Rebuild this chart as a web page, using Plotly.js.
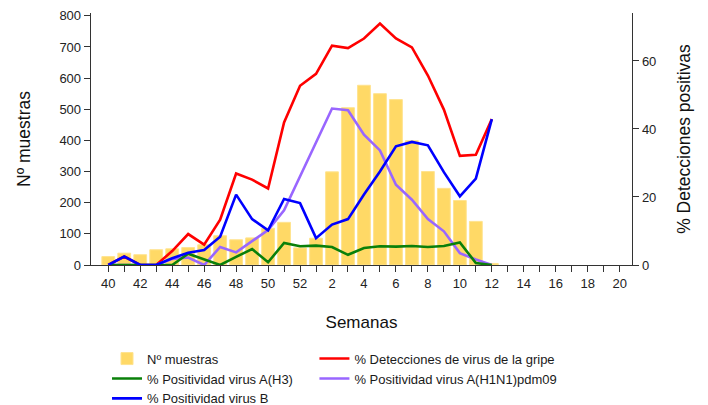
<!DOCTYPE html>
<html>
<head>
<meta charset="utf-8">
<script src="https://cdn.plot.ly/plotly-3.0.1.min.js"></script>
<style>html,body{margin:0;padding:0;background:#fff;}#chart{width:708px;height:405px;}</style>
</head>
<body>
<div id="chart"></div>
<script>
// Weeks (season weeks 40..52, then 1..20)
const weeks = ['40','41','42','43','44','45','46','47','48','49','50','51','52',
  '1','2','3','4','5','6','7','8','9','10','11','12','13','14','15','16','17','18','19','20'];
const tickLabels = ['40','','42','','44','','46','','48','','50','','52',
  '','2','','4','','6','','8','','10','','12','','14','','16','','18','','20'];

// Nº muestras (left axis)
const muestras = [27,38,33,49,52,56,65,94,81,87,118,137,55,
  86,299,505,577,550,531,399,300,246,207,140,5,null,null,null,null,null,null,null,null];

// % Detecciones de virus de la gripe
const detecciones = [0,2.5,0,0,4.1,9.1,6.0,13.3,26.9,25.1,22.5,41.9,52.7,
  56.2,64.5,63.8,66.6,71.0,66.6,64.0,55.7,45.7,32.1,32.4,42.9,null,null,null,null,null,null,null,null];

// % Positividad virus A(H3)
const h3 = [0,0,0,0,0,3.3,1.6,0,2.4,4.7,0.8,6.5,5.5,
  5.7,5.3,3.0,5.0,5.5,5.4,5.6,5.3,5.6,6.6,0.6,0,null,null,null,null,null,null,null,null];

// % Positividad virus A(H1N1)pdm09
const h1n1 = [0,0,0,0,1.8,2.2,0,5.3,3.7,6.9,10.3,16.1,26.1,
  36.4,46.0,45.5,38.3,33.7,23.6,19.2,13.5,9.9,3.5,1.6,0,null,null,null,null,null,null,null,null];

// % Positividad virus B
const virusB = [0,2.5,0,0,2.0,3.6,4.4,8.3,20.7,13.5,10.2,19.4,18.2,
  7.9,11.9,13.5,20.7,27.5,34.9,36.2,35.2,27.3,20.2,25.4,42.9,null,null,null,null,null,null,null,null];

const FONT = 'Liberation Sans, Arial, sans-serif';
const LW = 2.6;

const traces = [
  {type:'bar', x:weeks, y:muestras, name:'Nº muestras', yaxis:'y', legend:'legend',
   marker:{color:'#FFD966', line:{color:'#FFE38F', width:1}}},
  {type:'scatter', mode:'lines', x:weeks, y:detecciones, name:'% Detecciones de virus de la gripe',
   yaxis:'y2', legend:'legend2', line:{color:'#FF0000', width:LW}},
  {type:'scatter', mode:'lines', x:weeks, y:h1n1, name:'% Positividad virus A(H1N1)pdm09',
   yaxis:'y2', legend:'legend2', line:{color:'#9966FF', width:LW}},
  {type:'scatter', mode:'lines', x:weeks, y:h3, name:'% Positividad virus A(H3)',
   yaxis:'y2', legend:'legend', line:{color:'#0A800A', width:LW}},
  {type:'scatter', mode:'lines', x:weeks, y:virusB, name:'% Positividad virus B',
   yaxis:'y2', legend:'legend', line:{color:'#0000FF', width:LW}}
];

const legendCommon = {
  orientation:'v', xanchor:'left', yanchor:'top', bgcolor:'rgba(0,0,0,0)',
  font:{family:FONT, size:13, color:'#1a1a1a'}, tracegroupgap:0, itemwidth:30
};

const layout = {
  width:708, height:405,
  margin:{l:91, r:76, t:13, b:140, autoexpand:false},
  paper_bgcolor:'#fff', plot_bgcolor:'#fff',
  font:{family:FONT, size:13, color:'#222'},
  bargap:0.2,
  showlegend:true,
  xaxis:{
    type:'category', categoryorder:'array', categoryarray:weeks,
    range:[-1.08, 32.77],
    tickmode:'array', tickvals:weeks, ticktext:tickLabels,
    ticks:'outside', ticklen:6, tickwidth:1, tickcolor:'#333',
    showline:true, linecolor:'#333', linewidth:1.3,
    showgrid:false, zeroline:false,
    tickfont:{family:FONT, size:13, color:'#222'},
    title:{text:'Semanas', font:{family:FONT, size:17, color:'#111'}, standoff:26}
  },
  yaxis:{
    range:[0, 809], tickvals:[0,100,200,300,400,500,600,700,800],
    ticks:'outside', ticklen:6, tickwidth:1, tickcolor:'#333',
    showline:true, linecolor:'#333', linewidth:1.3,
    showgrid:false, zeroline:false,
    tickfont:{family:FONT, size:13, color:'#222'},
    title:{text:'Nº muestras', font:{family:FONT, size:17.5, color:'#111'}, standoff:24}
  },
  yaxis2:{
    overlaying:'y', side:'right', range:[0, 74.1], tickvals:[0,20,40,60],
    ticks:'outside', ticklen:6, tickwidth:1, tickcolor:'#333',
    showline:true, linecolor:'#333', linewidth:1.3,
    showgrid:false, zeroline:false,
    tickfont:{family:FONT, size:13, color:'#222'},
    title:{text:'% Detecciones positivas', font:{family:FONT, size:17.5, color:'#111'}, standoff:22}
  },
  legend:Object.assign({}, legendCommon, {x:0.0296, y:-0.312}),
  legend2:Object.assign({}, legendCommon, {x:0.413, y:-0.312})
};

Plotly.newPlot('chart', traces, layout, {displayModeBar:false, staticPlot:true});
</script>
</body>
</html>
